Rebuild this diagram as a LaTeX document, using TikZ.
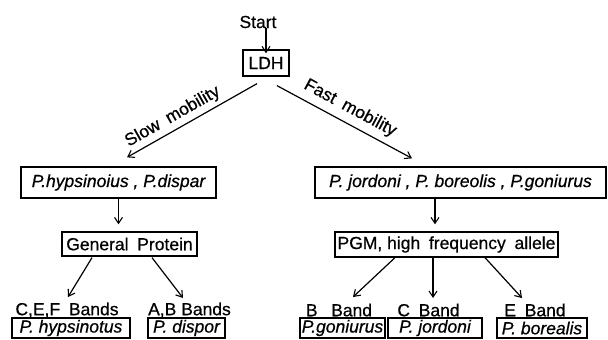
\documentclass[tikz,border=0pt]{standalone}
\usepackage{fontspec}
\setmainfont{Liberation Sans}[FakeBold=0.6]
\usetikzlibrary{arrows.meta}
\begin{document}
\begin{tikzpicture}[x=1pt,y=-1pt,
  every node/.style={font=\fontsize{17.5}{19}\selectfont, inner sep=0pt},
  box/.style={draw, line width=1.3pt, minimum height=#1, align=center},
  box/.default=20pt,
  arr/.style={line width=1.2pt, -{Straight Barb[length=6pt,width=8pt,line width=1.1pt]}},
  sp/.style={font=\fontsize{17.5}{19}\selectfont\itshape}]
\useasboundingbox (0,0) rectangle (608,340);
% top
\node (start) at (258,22) {Start};
\node[box=26pt, minimum width=46pt] (ldh) at (266,63) {LDH};
\draw[arr] (ldh.north |- start.south) -- ([yshift=-4pt]ldh.north);
% level 2
\node[box=31pt, minimum width=195pt, sp] (lbox) at (118.5,182.5) {P.hypsinoius , P.dispar};
\node[box=31pt, minimum width=291pt, sp] (rbox) at (460.5,182.5) {P. jordoni , P. boreolis , P.goniurus};
\draw[arr] ([shift={(-9,7)}]ldh.south) -- ([shift={(8.5,-9)}]lbox.north)
  node[pos=0.6, sloped, above=4pt] {Slow\enspace mobility};
\draw[arr] ([shift={(11,9)}]ldh.south) -- ([shift={(-48.5,-8)}]rbox.north)
  node[pos=0.49, sloped, above=6pt] {Fast\enspace mobility};
% level 3
\node[box=24pt, minimum width=135pt] (gp) at (129.5,244) {General\enspace Protein};
\node[box=25pt, minimum width=223pt] (pgm) at (446.5,244.5) {PGM, high\enspace frequency\enspace allele};
\draw[arr] (lbox.south) -- ([yshift=7pt]lbox.south |- gp.north);
\draw[arr] ([xshift=-25.5pt]rbox.south) -- ([shift={(-11.5,-7)}]pgm.north);
% level 4 labels
\node (cef) at (67,310) {C,E,F\enspace Bands};
\node (ab) at (189.5,310) {A,B Bands};
\node (bb) at (339,310) {B\enspace\ Band};
\node (cb) at (428.5,310) {C\enspace Band};
\node (eb) at (535,310) {E\enspace Band};
\draw[arr] ([shift={(-37.5,1)}]gp.south) -- ([shift={(1,-13)}]cef.center);
\draw[arr] ([shift={(22.5,1)}]gp.south) -- ([shift={(-6.5,-12)}]ab.center);
\draw[arr] ([shift={(-51.5,0)}]pgm.south) -- ([shift={(14,-13)}]bb.center);
\draw[arr] ([shift={(-13.5,0)}]pgm.south) -- ([shift={(4.5,-12)}]cb.center);
\draw[arr] ([shift={(38.5,0)}]pgm.south) -- ([shift={(-13,-12)}]eb.center);
% bottom boxes
\node[box, minimum width=118pt, sp] (hyp) at (71,328) {P. hypsinotus};
\node[box, minimum width=77pt, sp] (dis) at (186.5,328) {P. dispor};
\node[box, minimum width=85pt, sp] (gon) at (342.5,328) {P.goniurus};
\node[box, minimum width=94pt, sp] (jor) at (435,328) {P. jordoni};
\node[box, minimum width=90pt, sp] (bor) at (542,328) {P. borealis};
\end{tikzpicture}
\end{document}
